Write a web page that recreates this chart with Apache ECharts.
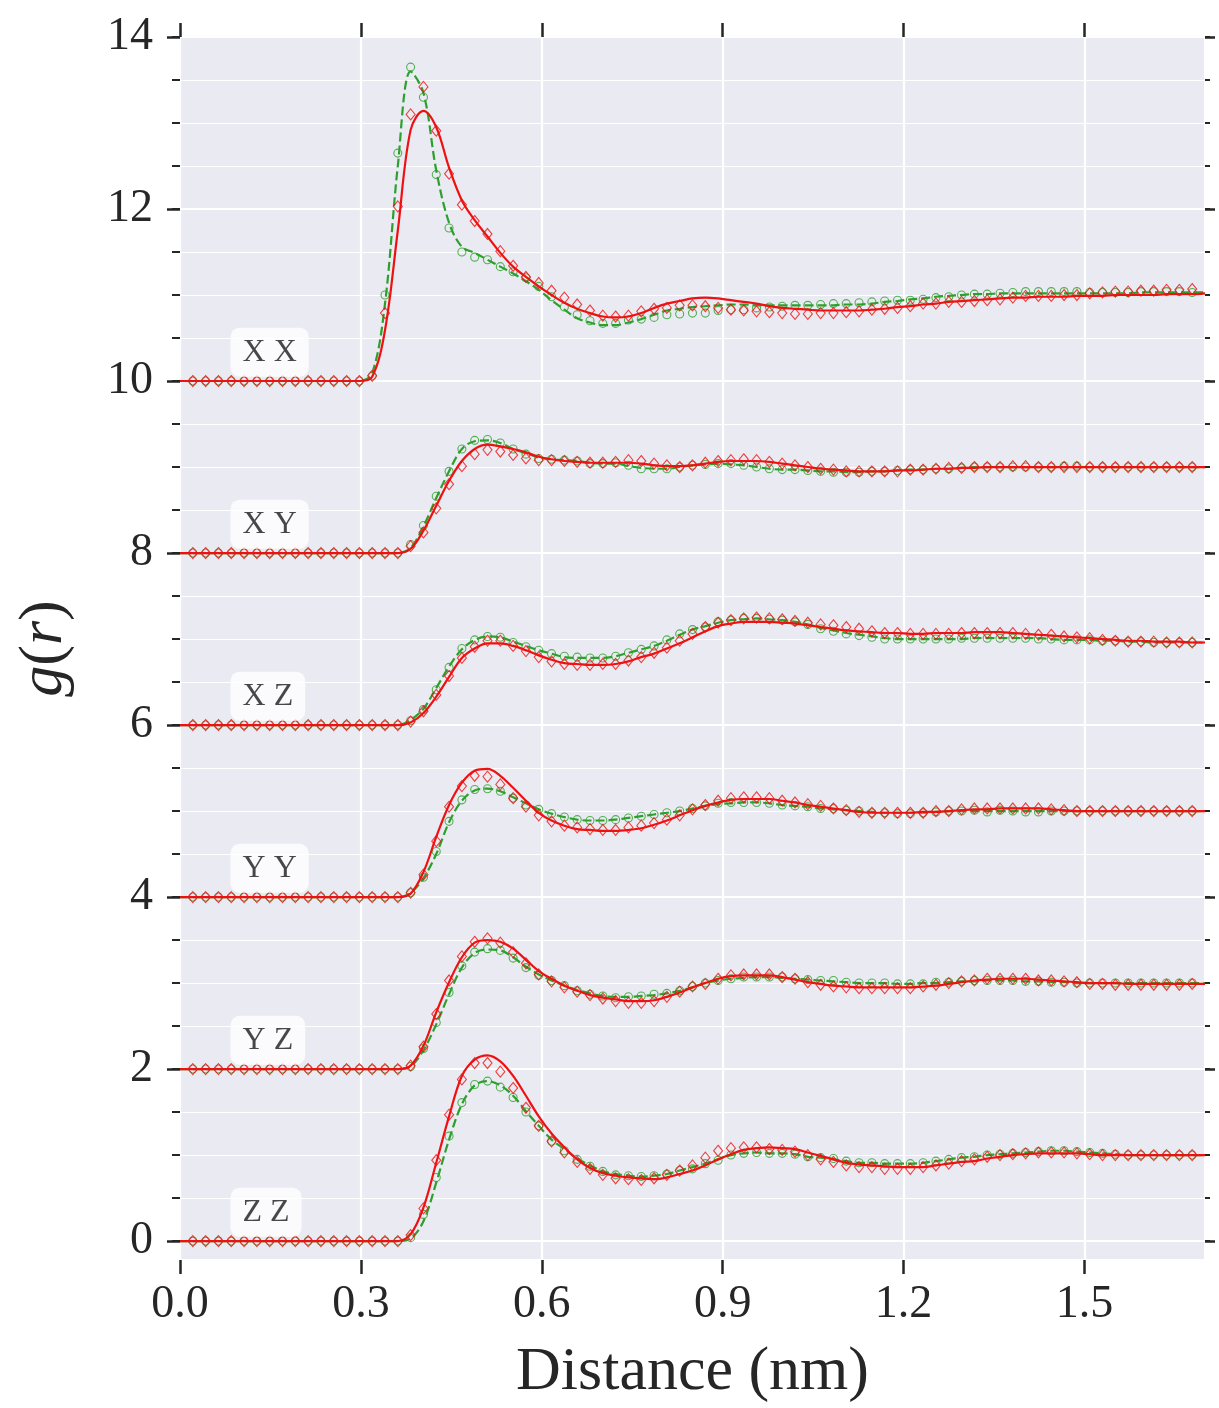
<!DOCTYPE html>
<html>
<head>
<meta charset="utf-8">
<title>g(r)</title>
<script src="https://cdn.jsdelivr.net/npm/echarts@6/dist/echarts.min.js"></script>
<style>
html, body { margin: 0; padding: 0; background: #fff; }
#myChart { width: 1219px; height: 1408px; }
</style>
</head>
<body>
<div id="myChart"></div>
<script>
// bin width of the rdf (nm); markers sit on bins 1..79, lines on 0..80
const rStep = 0.02125

const pairNames = ['X X', 'X Y', 'X Z', 'Y Y', 'Y Z', 'Z Z']
const offsets = [10, 8, 6, 4, 2, 0]

const xTickValues = [0, 0.3, 0.6, 0.9, 1.2, 1.5]
const yMajorTicks = [0, 2, 4, 6, 8, 10, 12, 14]
const yMinorTicks = [0, 0.5, 1, 1.5, 2, 2.5, 3, 3.5, 4, 4.5, 5, 5.5, 6, 6.5, 7, 7.5, 8, 8.5, 9, 9.5, 10, 10.5, 11, 11.5, 12, 12.5, 13, 13.5, 14]

// ---- X X ----
const xxGreenPts = [0, 0, 0, 0, 0, 0, 0, 0, 0, 0, 0, 0, 0, 0,
  0.06, 1.0, 2.65, 3.65, 3.3, 2.40, 1.78, 1.50, 1.44, 1.41, 1.33, 1.27, 1.20, 1.10, 0.98, 0.86, 0.77, 0.70, 0.67, 0.67,
  0.71, 0.72, 0.74, 0.77, 0.78, 0.79, 0.79, 0.82, 0.83, 0.83, 0.85, 0.86, 0.87, 0.88, 0.88, 0.89, 0.90, 0.90, 0.91, 0.92,
  0.93, 0.94, 0.94, 0.95, 0.97, 0.98, 1.0, 1.01, 1.01, 1.02, 1.03, 1.04, 1.04, 1.04, 1.04, 1.04, 1.03, 1.03, 1.03, 1.03, 1.04, 1.04, 1.04, 1.04, 1.03]
const xxRedPts = [0, 0, 0, 0, 0, 0, 0, 0, 0, 0, 0, 0, 0, 0,
  0.06, 0.79, 2.03, 3.10, 3.42, 2.91, 2.41, 2.05, 1.86, 1.71, 1.51, 1.34, 1.21, 1.14, 1.05, 0.97, 0.89, 0.82, 0.76, 0.75,
  0.76, 0.81, 0.84, 0.85, 0.88, 0.88, 0.87, 0.85, 0.83, 0.82, 0.81, 0.80, 0.79, 0.78, 0.78, 0.79, 0.79, 0.80, 0.81, 0.83,
  0.84, 0.85, 0.87, 0.90, 0.90, 0.92, 0.92, 0.93, 0.94, 0.95, 0.97, 0.99, 0.99, 0.99, 1.0, 1.0, 1.02, 1.03, 1.04, 1.04, 1.05, 1.05, 1.06, 1.06, 1.07]
const xxGreenLine = [0, 0, 0, 0, 0, 0, 0, 0, 0, 0, 0, 0, 0, 0, 0,
  0.09, 0.9, 2.5, 3.6, 3.35, 2.45, 1.84, 1.56, 1.49, 1.41, 1.33, 1.25, 1.16, 1.06, 0.94, 0.83, 0.73, 0.68, 0.65, 0.65,
  0.68, 0.72, 0.77, 0.82, 0.84, 0.86, 0.87, 0.88, 0.89, 0.89, 0.88, 0.88, 0.88, 0.88, 0.88, 0.88, 0.88, 0.89, 0.89, 0.90,
  0.92, 0.93, 0.95, 0.96, 0.98, 0.99, 1.0, 1.01, 1.01, 1.02, 1.02, 1.02, 1.02, 1.02, 1.02, 1.02, 1.02, 1.02, 1.02, 1.02, 1.03, 1.03, 1.03, 1.03, 1.03, 1.03]
const xxRedLine = [0, 0, 0, 0, 0, 0, 0, 0, 0, 0, 0, 0, 0, 0, 0,
  0.05, 0.59, 1.75, 2.92, 3.14, 2.95, 2.48, 2.10, 1.87, 1.68, 1.49, 1.33, 1.21, 1.10, 1.0, 0.91, 0.84, 0.79, 0.75, 0.74,
  0.75, 0.79, 0.85, 0.90, 0.93, 0.96, 0.97, 0.96, 0.94, 0.92, 0.90, 0.87, 0.85, 0.84, 0.83, 0.82, 0.82, 0.82, 0.82, 0.83,
  0.84, 0.86, 0.87, 0.89, 0.90, 0.92, 0.93, 0.94, 0.95, 0.96, 0.97, 0.97, 0.98, 0.98, 0.98, 0.99, 0.99, 0.99, 1.0, 1.0, 1.0, 1.0, 1.01, 1.01, 1.01, 1.02]

// ---- X Y ----
const xyGreenPts = [0, 0, 0, 0, 0, 0, 0, 0, 0, 0, 0, 0, 0, 0, 0, 0, 0,
  0.10, 0.32, 0.66, 0.95, 1.21, 1.31, 1.32, 1.28, 1.21, 1.15, 1.10, 1.09, 1.08, 1.07, 1.04, 1.04, 1.05,
  1.02, 0.98, 0.98, 0.98, 1.0, 1.02, 1.03, 1.04, 1.04, 1.02, 1.0, 0.98, 0.97, 0.97, 0.96, 0.95, 0.94, 0.94, 0.94, 0.95,
  0.95, 0.96, 0.97, 0.97, 0.98, 0.98, 0.99, 1.0, 1.0, 1.0, 1.0, 1.0, 1.0, 1.0, 1.01, 1.01, 1.0, 1.0, 1.0, 1.0, 1.0, 1.0, 1.0, 1.0, 1.0]
const xyRedPts = [0, 0, 0, 0, 0, 0, 0, 0, 0, 0, 0, 0, 0, 0, 0, 0, 0,
  0.08, 0.24, 0.52, 0.80, 1.01, 1.15, 1.20, 1.18, 1.14, 1.10, 1.08, 1.08, 1.07, 1.06, 1.05, 1.05, 1.06,
  1.08, 1.07, 1.04, 1.02, 1.0, 1.02, 1.05, 1.07, 1.08, 1.09, 1.08, 1.06, 1.04, 1.02, 1.0, 0.98, 0.97, 0.95, 0.95, 0.95,
  0.95, 0.95, 0.97, 0.97, 0.98, 0.99, 0.99, 1.0, 1.0, 1.0, 1.01, 1.01, 1.0, 1.0, 1.0, 1.0, 1.0, 1.0, 1.0, 1.0, 1.0, 1.0, 1.0, 1.0, 1.0]
const xyGreenLine = [0, 0, 0, 0, 0, 0, 0, 0, 0, 0, 0, 0, 0, 0, 0, 0, 0, 0,
  0.06, 0.31, 0.64, 0.95, 1.21, 1.30, 1.31, 1.28, 1.21, 1.16, 1.11, 1.09, 1.08, 1.07, 1.05, 1.04, 1.04,
  1.01, 0.99, 0.98, 0.98, 1.0, 1.02, 1.03, 1.04, 1.03, 1.02, 1.0, 0.98, 0.97, 0.97, 0.96, 0.95, 0.95, 0.94, 0.94, 0.95,
  0.95, 0.96, 0.97, 0.97, 0.98, 0.98, 0.99, 1.0, 1.0, 1.0, 1.0, 1.0, 1.0, 1.0, 1.0, 1.0, 1.0, 1.0, 1.0, 1.0, 1.0, 1.0, 1.0, 1.0, 1.0, 1.0]
const xyRedLine = [0, 0, 0, 0, 0, 0, 0, 0, 0, 0, 0, 0, 0, 0, 0, 0, 0, 0,
  0.05, 0.26, 0.55, 0.84, 1.07, 1.21, 1.26, 1.24, 1.21, 1.17, 1.12, 1.09, 1.07, 1.06, 1.05, 1.05, 1.05,
  1.05, 1.04, 1.02, 1.01, 1.01, 1.02, 1.04, 1.06, 1.07, 1.07, 1.07, 1.06, 1.04, 1.02, 1.0, 0.98, 0.97, 0.96, 0.95, 0.95,
  0.95, 0.96, 0.96, 0.97, 0.98, 0.98, 0.99, 0.99, 1.0, 1.0, 1.0, 1.0, 1.0, 1.0, 1.0, 1.0, 1.0, 1.0, 1.0, 1.0, 1.0, 1.0, 1.0, 1.0, 1.0, 1.0]

// ---- X Z ----
const xzGreenPts = [0, 0, 0, 0, 0, 0, 0, 0, 0, 0, 0, 0, 0, 0, 0, 0, 0,
  0.05, 0.18, 0.41, 0.67, 0.89, 0.99, 1.03, 1.02, 0.96, 0.91, 0.87, 0.83, 0.80, 0.79, 0.78, 0.78, 0.80,
  0.84, 0.88, 0.92, 0.99, 1.06, 1.11, 1.14, 1.20, 1.22, 1.24, 1.24, 1.23, 1.22, 1.20, 1.17, 1.12, 1.09, 1.06, 1.04, 1.02,
  1.0, 1.0, 1.0, 1.0, 1.0, 1.0, 1.01, 1.01, 1.01, 1.01, 1.01, 1.01, 1.0, 1.0, 0.99, 0.99, 0.99, 0.98, 0.98, 0.97, 0.97, 0.96, 0.96, 0.96, 0.96]
const xzRedPts = [0, 0, 0, 0, 0, 0, 0, 0, 0, 0, 0, 0, 0, 0, 0, 0, 0,
  0.04, 0.16, 0.35, 0.57, 0.78, 0.91, 0.98, 0.98, 0.92, 0.86, 0.79, 0.74, 0.71, 0.70, 0.70, 0.71, 0.71,
  0.75, 0.79, 0.84, 0.90, 0.98, 1.06, 1.14, 1.19, 1.22, 1.24, 1.25, 1.24, 1.23, 1.21, 1.19, 1.17, 1.16, 1.14, 1.12, 1.09,
  1.07, 1.07, 1.06, 1.06, 1.06, 1.06, 1.07, 1.07, 1.07, 1.07, 1.07, 1.06, 1.05, 1.05, 1.03, 1.02, 1.01, 0.99, 0.98, 0.97, 0.97, 0.97, 0.96, 0.96, 0.96]
const xzGreenLine = [0, 0, 0, 0, 0, 0, 0, 0, 0, 0, 0, 0, 0, 0, 0, 0, 0, 0,
  0.06, 0.19, 0.43, 0.68, 0.88, 0.99, 1.03, 1.02, 0.97, 0.92, 0.87, 0.83, 0.79, 0.78, 0.78, 0.78, 0.80,
  0.84, 0.88, 0.92, 0.98, 1.05, 1.11, 1.15, 1.19, 1.22, 1.23, 1.24, 1.23, 1.22, 1.20, 1.17, 1.13, 1.10, 1.07, 1.05, 1.03,
  1.01, 1.0, 1.0, 1.0, 1.0, 1.0, 1.0, 1.01, 1.01, 1.01, 1.01, 1.01, 1.01, 1.0, 0.99, 0.99, 0.99, 0.98, 0.98, 0.97, 0.97, 0.96, 0.96, 0.96, 0.96, 0.96]
const xzRedLine = [0, 0, 0, 0, 0, 0, 0, 0, 0, 0, 0, 0, 0, 0, 0, 0, 0, 0,
  0.03, 0.14, 0.33, 0.56, 0.78, 0.89, 0.95, 0.95, 0.92, 0.87, 0.81, 0.76, 0.72, 0.71, 0.70, 0.70, 0.71,
  0.74, 0.79, 0.83, 0.89, 0.95, 1.02, 1.09, 1.15, 1.18, 1.20, 1.20, 1.20, 1.19, 1.18, 1.16, 1.14, 1.12, 1.10, 1.09, 1.08,
  1.07, 1.07, 1.06, 1.06, 1.07, 1.07, 1.07, 1.08, 1.08, 1.08, 1.07, 1.06, 1.05, 1.04, 1.03, 1.02, 1.01, 1.0, 0.99, 0.98, 0.98, 0.97, 0.97, 0.97, 0.96, 0.96]

// ---- Y Y ----
const yyGreenPts = [0, 0, 0, 0, 0, 0, 0, 0, 0, 0, 0, 0, 0, 0, 0, 0, 0,
  0.05, 0.23, 0.53, 0.88, 1.13, 1.25, 1.26, 1.23, 1.15, 1.07, 1.02, 0.97, 0.93, 0.90, 0.89, 0.89, 0.90,
  0.92, 0.94, 0.96, 0.98, 1.0, 1.03, 1.06, 1.09, 1.10, 1.10, 1.10, 1.09, 1.07, 1.06, 1.05, 1.03, 1.03, 1.01, 1.0, 0.98,
  0.98, 0.97, 0.97, 0.98, 0.99, 1.0, 1.0, 1.01, 0.99, 1.01, 1.0, 0.99, 0.99, 1.0, 1.0, 1.0, 1.0, 1.0, 1.0, 1.0, 1.0, 1.0, 1.0, 1.0, 1.0]
const yyRedPts = [0, 0, 0, 0, 0, 0, 0, 0, 0, 0, 0, 0, 0, 0, 0, 0, 0,
  0.05, 0.26, 0.65, 1.05, 1.29, 1.41, 1.40, 1.31, 1.15, 1.05, 0.95, 0.88, 0.83, 0.81, 0.79, 0.78, 0.78,
  0.81, 0.83, 0.86, 0.90, 0.95, 1.02, 1.07, 1.12, 1.15, 1.16, 1.16, 1.15, 1.12, 1.10, 1.08, 1.06, 1.03, 1.01, 0.99, 0.98,
  0.98, 0.98, 0.98, 0.98, 1.0, 1.0, 1.02, 1.03, 1.03, 1.03, 1.03, 1.03, 1.03, 1.02, 1.01, 1.0, 1.0, 1.0, 1.0, 1.0, 1.0, 1.0, 1.0, 1.0, 1.0]
const yyGreenLine = [0, 0, 0, 0, 0, 0, 0, 0, 0, 0, 0, 0, 0, 0, 0, 0, 0, 0,
  0.05, 0.22, 0.50, 0.87, 1.12, 1.24, 1.26, 1.23, 1.16, 1.09, 1.02, 0.97, 0.93, 0.90, 0.89, 0.89, 0.90,
  0.92, 0.94, 0.96, 0.98, 1.0, 1.03, 1.06, 1.08, 1.09, 1.10, 1.10, 1.09, 1.07, 1.06, 1.05, 1.03, 1.02, 1.01, 1.0, 0.99,
  0.98, 0.98, 0.98, 0.98, 0.99, 1.0, 1.0, 1.0, 1.0, 1.0, 1.0, 1.0, 1.0, 1.0, 1.0, 1.0, 1.0, 1.0, 1.0, 1.0, 1.0, 1.0, 1.0, 1.0, 1.0, 1.0]
const yyRedLine = [0, 0, 0, 0, 0, 0, 0, 0, 0, 0, 0, 0, 0, 0, 0, 0, 0, 0,
  0.04, 0.29, 0.70, 1.07, 1.33, 1.47, 1.49, 1.41, 1.27, 1.12, 0.98, 0.89, 0.83, 0.79, 0.78, 0.77, 0.77,
  0.78, 0.80, 0.84, 0.89, 0.95, 1.01, 1.06, 1.10, 1.13, 1.14, 1.14, 1.14, 1.12, 1.10, 1.07, 1.05, 1.03, 1.01, 0.99, 0.98,
  0.98, 0.98, 0.98, 0.99, 0.99, 1.0, 1.01, 1.02, 1.02, 1.03, 1.03, 1.03, 1.03, 1.02, 1.01, 1.0, 1.0, 1.0, 1.0, 1.0, 1.0, 1.0, 1.0, 1.0, 1.0, 1.0]

// ---- Y Z ----
const yzGreenPts = [0, 0, 0, 0, 0, 0, 0, 0, 0, 0, 0, 0, 0, 0, 0, 0, 0,
  0.03, 0.24, 0.54, 0.89, 1.20, 1.36, 1.40, 1.38, 1.29, 1.18, 1.09, 1.03, 0.97, 0.91, 0.87, 0.85, 0.83,
  0.84, 0.85, 0.87, 0.88, 0.91, 0.96, 1.0, 1.03, 1.05, 1.07, 1.07, 1.07, 1.07, 1.05, 1.04, 1.03, 1.03, 1.01, 1.0, 1.0,
  1.0, 0.99, 0.99, 0.99, 1.01, 1.01, 1.02, 1.03, 1.03, 1.03, 1.03, 1.02, 1.02, 1.01, 1.01, 1.0, 1.0, 1.0, 1.0, 1.0, 1.0, 1.0, 1.0, 1.0, 1.0]
const yzRedPts = [0, 0, 0, 0, 0, 0, 0, 0, 0, 0, 0, 0, 0, 0, 0, 0, 0,
  0.04, 0.26, 0.64, 1.03, 1.31, 1.48, 1.52, 1.47, 1.36, 1.23, 1.10, 1.02, 0.95, 0.90, 0.86, 0.82, 0.79,
  0.77, 0.77, 0.79, 0.84, 0.90, 0.96, 0.99, 1.05, 1.09, 1.10, 1.10, 1.10, 1.07, 1.05, 1.01, 0.98, 0.96, 0.95, 0.94, 0.94,
  0.94, 0.94, 0.94, 0.96, 0.98, 1.0, 1.02, 1.03, 1.05, 1.05, 1.05, 1.05, 1.03, 1.03, 1.02, 1.01, 0.99, 0.99, 0.98, 0.98, 0.98, 0.98, 0.98, 0.98, 0.99]
const yzGreenLine = [0, 0, 0, 0, 0, 0, 0, 0, 0, 0, 0, 0, 0, 0, 0, 0, 0, 0,
  0.03, 0.22, 0.52, 0.87, 1.18, 1.35, 1.39, 1.38, 1.30, 1.19, 1.10, 1.03, 0.97, 0.92, 0.88, 0.85, 0.84,
  0.84, 0.85, 0.86, 0.88, 0.91, 0.95, 1.0, 1.03, 1.05, 1.06, 1.07, 1.07, 1.06, 1.05, 1.04, 1.03, 1.02, 1.01, 1.0, 1.0,
  1.0, 0.99, 0.99, 1.0, 1.0, 1.01, 1.02, 1.02, 1.03, 1.03, 1.03, 1.02, 1.02, 1.01, 1.01, 1.0, 1.0, 1.0, 1.0, 1.0, 1.0, 1.0, 1.0, 1.0, 1.0, 1.0]
const yzRedLine = [0, 0, 0, 0, 0, 0, 0, 0, 0, 0, 0, 0, 0, 0, 0, 0, 0, 0,
  0.04, 0.27, 0.66, 1.01, 1.30, 1.47, 1.50, 1.48, 1.40, 1.27, 1.14, 1.05, 0.97, 0.91, 0.86, 0.83, 0.81,
  0.79, 0.79, 0.80, 0.84, 0.89, 0.95, 1.0, 1.05, 1.08, 1.09, 1.09, 1.09, 1.07, 1.04, 1.01, 0.99, 0.97, 0.96, 0.95, 0.95,
  0.95, 0.95, 0.95, 0.96, 0.97, 0.99, 1.01, 1.03, 1.04, 1.05, 1.05, 1.05, 1.04, 1.03, 1.02, 1.01, 1.0, 1.0, 1.0, 0.99, 0.99, 0.99, 0.99, 0.99, 0.99, 0.99]

// ---- Z Z ----
const zzGreenPts = [0, 0, 0, 0, 0, 0, 0, 0, 0, 0, 0, 0, 0, 0, 0, 0, 0,
  0.04, 0.31, 0.74, 1.22, 1.61, 1.82, 1.86, 1.79, 1.67, 1.50, 1.34, 1.16, 1.05, 0.95, 0.87, 0.81, 0.77,
  0.76, 0.75, 0.76, 0.78, 0.82, 0.84, 0.90, 0.94, 1.0, 1.02, 1.03, 1.02, 1.02, 1.01, 0.98, 0.97, 0.96, 0.93, 0.91, 0.91,
  0.90, 0.90, 0.90, 0.91, 0.93, 0.95, 0.97, 0.98, 1.0, 1.01, 1.02, 1.03, 1.04, 1.05, 1.05, 1.04, 1.03, 1.02, 1.01, 1.0, 1.0, 1.0, 1.0, 1.0, 1.0]
const zzRedPts = [0, 0, 0, 0, 0, 0, 0, 0, 0, 0, 0, 0, 0, 0, 0, 0, 0,
  0.07, 0.38, 0.94, 1.47, 1.88, 2.07, 2.07, 1.97, 1.78, 1.55, 1.34, 1.16, 1.03, 0.92, 0.84, 0.77, 0.73,
  0.72, 0.71, 0.73, 0.77, 0.82, 0.88, 0.97, 1.05, 1.08, 1.09, 1.09, 1.07, 1.06, 1.04, 1.0, 0.95, 0.92, 0.88, 0.86, 0.86,
  0.84, 0.84, 0.84, 0.86, 0.88, 0.90, 0.93, 0.95, 0.98, 1.0, 1.01, 1.02, 1.03, 1.03, 1.03, 1.02, 1.01, 1.0, 1.0, 1.0, 1.0, 1.0, 1.0, 1.0, 1.0]
const zzGreenLine = [0, 0, 0, 0, 0, 0, 0, 0, 0, 0, 0, 0, 0, 0, 0, 0, 0, 0,
  0.03, 0.23, 0.68, 1.18, 1.59, 1.81, 1.86, 1.81, 1.69, 1.51, 1.34, 1.18, 1.07, 0.96, 0.88, 0.81, 0.78,
  0.76, 0.75, 0.76, 0.78, 0.82, 0.86, 0.90, 0.95, 1.0, 1.02, 1.03, 1.02, 1.02, 1.01, 0.98, 0.97, 0.95, 0.93, 0.91, 0.91,
  0.90, 0.90, 0.90, 0.91, 0.93, 0.95, 0.97, 0.98, 1.0, 1.01, 1.02, 1.03, 1.04, 1.05, 1.05, 1.04, 1.03, 1.02, 1.01, 1.0, 1.0, 1.0, 1.0, 1.0, 1.0, 1.0]
const zzRedLine = [0, 0, 0, 0, 0, 0, 0, 0, 0, 0, 0, 0, 0, 0, 0, 0, 0, 0,
  0.08, 0.39, 0.91, 1.45, 1.92, 2.11, 2.16, 2.09, 1.92, 1.69, 1.45, 1.25, 1.09, 0.95, 0.85, 0.79, 0.76,
  0.74, 0.73, 0.72, 0.74, 0.78, 0.82, 0.88, 0.95, 1.01, 1.06, 1.08, 1.09, 1.08, 1.07, 1.03, 0.99, 0.95, 0.91, 0.89, 0.88,
  0.87, 0.86, 0.86, 0.86, 0.88, 0.90, 0.92, 0.93, 0.96, 0.98, 1.0, 1.01, 1.02, 1.02, 1.02, 1.02, 1.01, 1.0, 1.0, 1.0, 1.0, 1.0, 1.0, 1.0, 1.0, 1.0]

const greenPts = [xxGreenPts, xyGreenPts, xzGreenPts, yyGreenPts, yzGreenPts, zzGreenPts]
const redPts = [xxRedPts, xyRedPts, xzRedPts, yyRedPts, yzRedPts, zzRedPts]
const greenLines = [xxGreenLine, xyGreenLine, xzGreenLine, yyGreenLine, yzGreenLine, zzGreenLine]
const redLines = [xxRedLine, xyRedLine, xzRedLine, yyRedLine, yzRedLine, zzRedLine]

const GREEN = '#2ca02c'
const RED = '#ee1111'
const INK = '#262626'
const SERIF = '"Liberation Serif", "DejaVu Serif", serif'

// markers start at the first bin, lines at r = 0
function toPts(arr, off) {
  return arr.map((v, i) => [(i + 1) * rStep, v + off])
}
function toLine(arr, off) {
  return arr.map((v, i) => [i * rStep, v + off])
}

const series = []
pairNames.forEach((name, p) => {
  const off = offsets[p]
  series.push({
    type: 'line',
    data: toLine(greenLines[p], off),
    smooth: 0.35,
    showSymbol: false,
    symbol: 'none',
    lineStyle: { color: GREEN, width: 2.2, type: [9, 4] },
    z: 2
  })
  series.push({
    type: 'scatter',
    data: toPts(greenPts[p], off),
    symbol: 'circle',
    symbolSize: 8,
    itemStyle: { color: 'rgba(0,0,0,0)', borderColor: GREEN, borderWidth: 1.1 },
    z: 3
  })
  series.push({
    type: 'scatter',
    data: toPts(redPts[p], off),
    symbol: 'diamond',
    symbolSize: [9, 11],
    itemStyle: { color: 'rgba(0,0,0,0)', borderColor: RED, borderWidth: 1.1 },
    z: 4
  })
  series.push({
    type: 'line',
    data: toLine(redLines[p], off),
    smooth: 0.35,
    showSymbol: false,
    symbol: 'none',
    lineStyle: { color: RED, width: 2.2 },
    z: 5
  })
  // pair label in a white rounded box
  series.push({
    type: 'scatter',
    data: [[0.083, off + 0.335]],
    symbolSize: 1,
    itemStyle: { color: 'rgba(0,0,0,0)' },
    label: {
      show: true,
      position: 'right',
      distance: 0,
      formatter: name,
      fontFamily: SERIF,
      fontSize: 32,
      color: '#1a1a1a',
      backgroundColor: '#fff',
      borderRadius: 9,
      padding: [10, 12, 7, 12]
    },
    z: 10
  })
})

const yBase = { type: 'value', min: -0.22, max: 14, axisLine: { show: false, onZero: false } }

const myChart = echarts.init(document.getElementById('myChart'))
myChart.setOption({
  animation: false,
  backgroundColor: '#fff',
  grid: {
    left: 180,
    right: 14,
    top: 37,
    bottom: 148,
    show: true,
    backgroundColor: '#eaeaf2',
    borderColor: '#fff',
    borderWidth: 2,
    containLabel: false,
    outerBoundsMode: 'none'
  },
  xAxis: [
    {
      type: 'value',
      min: 0,
      max: 1.7,
      position: 'bottom',
      axisLine: { show: false, onZero: false },
      axisTick: { customValues: xTickValues, length: 14, lineStyle: { color: INK, width: 2.5 } },
      axisLabel: {
        customValues: xTickValues,
        formatter: v => v.toFixed(1),
        fontFamily: SERIF,
        fontSize: 46,
        color: INK,
        margin: 22
      },
      splitLine: { show: true, lineStyle: { color: '#fff', width: 2.2 } },
      name: 'Distance (nm)',
      nameLocation: 'middle',
      nameGap: 82,
      nameTextStyle: { fontFamily: SERIF, fontSize: 62, color: INK }
    },
    {
      type: 'value',
      min: 0,
      max: 1.7,
      position: 'top',
      axisLine: { show: false, onZero: false },
      axisTick: { customValues: xTickValues, length: 14, lineStyle: { color: INK, width: 2.5 } },
      axisLabel: { show: false },
      splitLine: { show: false }
    }
  ],
  yAxis: [
    {
      ...yBase,
      position: 'left',
      splitNumber: 28,
      axisTick: { customValues: yMinorTicks, length: 8, lineStyle: { color: INK, width: 2 } },
      axisLabel: { show: false },
      splitLine: { show: true, lineStyle: { color: '#fff', width: 1.2 } }
    },
    {
      ...yBase,
      position: 'left',
      splitNumber: 7,
      axisTick: { customValues: yMajorTicks, length: 13, lineStyle: { color: INK, width: 2.5 } },
      axisLabel: {
        customValues: yMajorTicks,
        fontFamily: SERIF,
        fontSize: 46,
        color: INK,
        margin: 27
      },
      splitLine: { show: true, lineStyle: { color: '#fff', width: 2.2 } },
      name: '{i|g}{n|(}{i|r}{n|)}',
      nameLocation: 'middle',
      nameGap: 104,
      nameRotate: 90,
      nameTextStyle: {
        color: INK,
        rich: {
          i: { fontFamily: SERIF, fontStyle: 'italic', fontSize: 62, color: INK },
          n: { fontFamily: SERIF, fontSize: 62, color: INK }
        }
      }
    },
    {
      ...yBase,
      position: 'right',
      splitNumber: 28,
      axisTick: { customValues: yMinorTicks, length: 5, lineStyle: { color: INK, width: 2 } },
      axisLabel: { show: false },
      splitLine: { show: false }
    },
    {
      ...yBase,
      position: 'right',
      splitNumber: 7,
      axisTick: { customValues: yMajorTicks, length: 10, lineStyle: { color: INK, width: 2.5 } },
      axisLabel: { show: false },
      splitLine: { show: false }
    }
  ],
  series: series
})
</script>
</body>
</html>
